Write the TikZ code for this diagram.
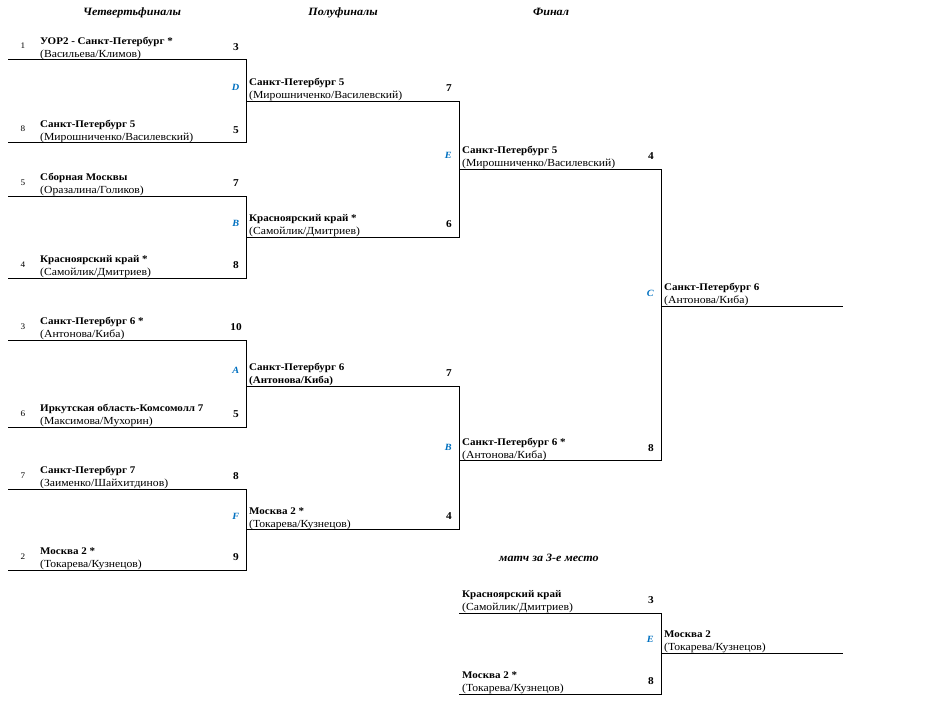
\documentclass[tikz,border=0pt]{standalone}
\usepackage{fontspec}
\setmainfont{Liberation Serif}[FakeStretch=1.08]
\definecolor{letterblue}{RGB}{0,112,192}
\tikzstyle{t} = [inner sep=0pt, anchor=base west, font=\fontsize{10.2}{12}\selectfont\bfseries]
\begin{document}
\begin{tikzpicture}[x=1pt,y=-1pt,
			team/.style={t},
			pair/.style={inner sep=0pt, anchor=base west, font=\fontsize{10.8}{12}\selectfont},
			score/.style={inner sep=0pt, anchor=base, font=\fontsize{10.5}{12}\selectfont\bfseries},
			seed/.style={inner sep=0pt, anchor=base, font=\fontsize{8.5}{10}\selectfont},
			round/.style={inner sep=0pt, anchor=base, font=\fontsize{11.2}{13}\selectfont\bfseries\itshape},
			letter/.style={inner sep=0pt, anchor=base east, text=letterblue, font=\fontsize{9.5}{11}\selectfont\bfseries\itshape},
			line/.style={line width=1pt}]
			\useasboundingbox (0,0) rectangle (950,710);
			% rounds
			\node (r1)[round] at (132,15) {Четвертьфиналы};
			\node (r2)[round] at (343,15) {Полуфиналы};
			\node (r3)[round] at (551,15) {Финал};
			\node (r4)[round] at (549,561) {матч за 3-е место};
			
			\coordinate (s1) at (8,59.5);
			\coordinate (s2) at (8,142.5);
			\coordinate (s3) at (8,196);
			\coordinate (s4) at (8,278);
			\coordinate (s5) at (8,340);
			\coordinate (s6) at (8,427);
			\coordinate (s7) at (8,489);
			\coordinate (s8) at (8,570);
			\coordinate (D) at (246.5,101);
			\coordinate (B1) at (246.5,237);
			\coordinate (A) at (246.5,386);
			\coordinate (F) at (246.5,529.5);
			\coordinate (E) at (459.3,169);
			\coordinate (B2) at (459.3,460.5);
			\coordinate (C) at (661.7,306.5);
			\coordinate (s9) at (459.3,613);
			\coordinate (s10) at (459.3,694);
			\coordinate (E3) at (661.7,653);
			\coordinate (end) at (843,0);
			
			% quarterfinals
			\node (n1)[seed] at (23,48.5) {1};
			\node (q1)[team] at (40,44) {УОР2 - Санкт-Петербург *};
			\node (p1)[pair] at (40,57) {(Васильева/Климов)};
			\node (c1)[score] at (236,50) {3};
			\node (n2)[seed] at (23,131.5) {8};
			\node (q2)[team] at (40,127) {Санкт-Петербург 5};
			\node (p2)[pair] at (40,140) {(Мирошниченко/Василевский)};
			\node (c2)[score] at (236,133) {5};
			\node (n3)[seed] at (23,185) {5};
			\node (q3)[team] at (40,180.5) {Сборная Москвы};
			\node (p3)[pair] at (40,193.5) {(Оразалина/Голиков)};
			\node (c3)[score] at (236,186.5) {7};
			\node (n4)[seed] at (23,267) {4};
			\node (q4)[team] at (40,262.5) {Красноярский край *};
			\node (p4)[pair] at (40,275.5) {(Самойлик/Дмитриев)};
			\node (c4)[score] at (236,268.5) {8};
			\node (n5)[seed] at (23,329) {3};
			\node (q5)[team] at (40,324.5) {Санкт-Петербург 6 *};
			\node (p5)[pair] at (40,337.5) {(Антонова/Киба)};
			\node (c5)[score] at (236,330.5) {10};
			\node (n6)[seed] at (23,416) {6};
			\node (q6)[team] at (40,411.5) {Иркутская область-Комсомолл 7};
			\node (p6)[pair] at (40,424.5) {(Максимова/Мухорин)};
			\node (c6)[score] at (236,417.5) {5};
			\node (n7)[seed] at (23,478) {7};
			\node (q7)[team] at (40,473.5) {Санкт-Петербург 7};
			\node (p7)[pair] at (40,486.5) {(Заименко/Шайхитдинов)};
			\node (c7)[score] at (236,479.5) {8};
			\node (n8)[seed] at (23,559) {2};
			\node (q8)[team] at (40,554.5) {Москва 2 *};
			\node (p8)[pair] at (40,567.5) {(Токарева/Кузнецов)};
			\node (c8)[score] at (236,560.5) {9};
			\node (lD)[letter] at (239.5,90.5) {D};
			\node (lB1)[letter] at (239.5,226.5) {B};
			\node (lA)[letter] at (239.5,373) {A};
			\node (lF)[letter] at (239.5,519) {F};
			
			% semifinals
			\node (h1)[team] at (249,85.5) {Санкт-Петербург 5};
			\node (g1)[pair] at (249,98.5) {(Мирошниченко/Василевский)};
			\node (k1)[score] at (449,91) {7};
			\node (h2)[team] at (249,221.5) {Красноярский край *};
			\node (g2)[pair] at (249,234.5) {(Самойлик/Дмитриев)};
			\node (k2)[score] at (449,227) {6};
			\node (h3)[team] at (249,370.5) {Санкт-Петербург 6};
			\node (g3)[team] at (249,383.5) {(Антонова/Киба)};
			\node (k3)[score] at (449,376) {7};
			\node (h4)[team] at (249,514) {Москва 2 *};
			\node (g4)[pair] at (249,527) {(Токарева/Кузнецов)};
			\node (k4)[score] at (449,519.5) {4};
			\node (lE)[letter] at (452,158.5) {E};
			\node (lB2)[letter] at (452,450) {B};
			
			% final
			\node (f1)[team] at (462,153.5) {Санкт-Петербург 5};
			\node (e1)[pair] at (462,166.5) {(Мирошниченко/Василевский)};
			\node (m1)[score] at (651,159.5) {4};
			\node (f2)[team] at (462,445) {Санкт-Петербург 6 *};
			\node (e2)[pair] at (462,458) {(Антонова/Киба)};
			\node (m2)[score] at (651,451) {8};
			\node (lC)[letter] at (654,296) {C};
			\node (w1)[team] at (664,290) {Санкт-Петербург 6};
			\node (v1)[pair] at (664,303.5) {(Антонова/Киба)};
			
			% third place
			\node (f3)[team] at (462,597.5) {Красноярский край};
			\node (e3)[pair] at (462,610.5) {(Самойлик/Дмитриев)};
			\node (m3)[score] at (651,603.5) {3};
			\node (f4)[team] at (462,678.5) {Москва 2 *};
			\node (e4)[pair] at (462,691.5) {(Токарева/Кузнецов)};
			\node (m4)[score] at (651,684.5) {8};
			\node (lE3)[letter] at (654,642.5) {E};
			\node (w2)[team] at (664,637) {Москва 2};
			\node (v2)[pair] at (664,650.5) {(Токарева/Кузнецов)};
			
			\draw[line] (s1) -- (s1 -| D) -- (s2 -| D) -- (s2);
			\draw[line] (s3) -- (s3 -| B1) -- (s4 -| B1) -- (s4);
			\draw[line] (s5) -- (s5 -| A) -- (s6 -| A) -- (s6);
			\draw[line] (s7) -- (s7 -| F) -- (s8 -| F) -- (s8);
			\draw[line] (D) -- (D -| E) -- (B1 -| E) -- (B1);
			\draw[line] (A) -- (A -| B2) -- (F -| B2) -- (F);
			\draw[line] (E) -- (E -| C) -- (B2 -| C) -- (B2);
			\draw[line] (C) -- (C -| end);
			\draw[line] (s9) -- (s9 -| E3) -- (s10 -| E3) -- (s10);
			\draw[line] (E3) -- (E3 -| end);
		\end{tikzpicture}
\end{document}
